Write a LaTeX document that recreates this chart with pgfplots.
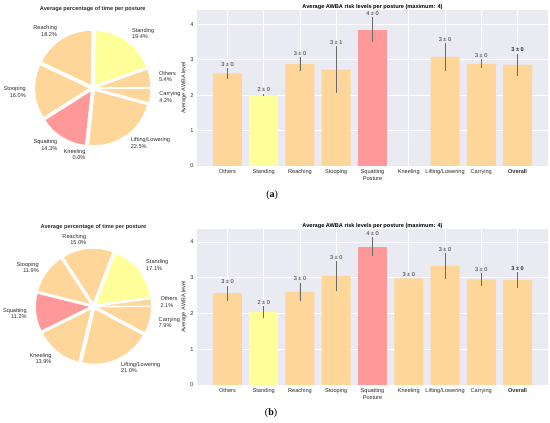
\documentclass[border=0pt]{standalone}
\usepackage{pgfplots}
\pgfplotsset{compat=1.18}
\usepackage{pgfplotstable}
\usepackage{fontspec}
\setmainfont{Liberation Sans}
\newfontfamily\seriffont{Liberation Serif}

\definecolor{orng}{HTML}{FFD699}
\definecolor{yel}{HTML}{FFFF99}
\definecolor{pnk}{HTML}{FF9999}
\definecolor{bgc}{HTML}{EAEAF2}
\definecolor{txt}{HTML}{2A2A2A}
\definecolor{errc}{HTML}{6A6A6A}
\newcommand\lbl{\fontsize{5.6}{6.6}\selectfont}

% ---------- pie data ----------
\pgfplotstableread[col sep=comma]{
name,pct,col
Others,5.4,orng
Standing,19.4,yel
Reaching,18.2,orng
Stooping,16.0,orng
Squatting,14.3,pnk
Kneeling,0.0,orng
Lifting/Lowering,22.5,orng
Carrying,4.2,orng
}\pieA
\pgfplotstableread[col sep=comma]{
name,pct,col
Others,2.1,orng
Standing,17.1,yel
Reaching,15.0,orng
Stooping,11.9,orng
Squatting,11.2,pnk
Kneeling,13.9,orng
Lifting/Lowering,21.0,orng
Carrying,7.9,orng
}\pieB

% ---------- bar data ----------
\pgfplotstableread[col sep=comma]{
x,y,err,c,lab
0,2.61,0.15,0,3 ± 0
1,2.01,0.03,1,2 ± 0
2,2.87,0.20,0,3 ± 0
3,2.72,0.66,0,3 ± 1
4,3.84,0.35,2,4 ± 0
6,3.08,0.39,0,3 ± 0
7,2.88,0.13,0,3 ± 0
8,2.85,0.32,0,\textbf{3 ± 0}
}\barA
\pgfplotstableread[col sep=comma]{
x,y,err,c,lab
0,2.57,0.21,0,3 ± 0
1,2.03,0.17,1,2 ± 0
2,2.60,0.26,0,3 ± 0
3,3.05,0.42,0,3 ± 0
4,3.87,0.27,2,4 ± 0
5,2.98,0.00,0,3 ± 0
6,3.33,0.36,0,3 ± 0
7,2.95,0.17,0,3 ± 0
8,2.94,0.22,0,\textbf{3 ± 0}
}\barB

% cumulative angles for the pies
\newcommand\preppie[2]{%
  \pgfplotstablegetrowsof{#1}%
  \pgfmathtruncatemacro\nrows{\pgfplotsretval-1}%
  \xdef\cum{0}%
  \foreach \i in {0,...,\nrows}{%
    \pgfplotstablegetelem{\i}{pct}\of{#1}\let\p\pgfplotsretval
    \pgfplotstablegetelem{\i}{name}\of{#1}\let\nm\pgfplotsretval
    \pgfplotstablegetelem{\i}{col}\of{#1}\let\cl\pgfplotsretval
    \pgfmathsetmacro\a{\cum*3.6}%
    \pgfmathsetmacro\b{(\cum+\p)*3.6}%
    \pgfmathsetmacro\m{(\a+\b)/2}%
    \pgfmathsetmacro\newcum{\cum+\p}%
    \expandafter\xdef\csname#2a\i\endcsname{\a}%
    \expandafter\xdef\csname#2b\i\endcsname{\b}%
    \expandafter\xdef\csname#2m\i\endcsname{\m}%
    \expandafter\xdef\csname#2n\i\endcsname{\nm}%
    \expandafter\xdef\csname#2p\i\endcsname{\p}%
    \expandafter\xdef\csname#2c\i\endcsname{\cl}%
    \xdef\cum{\newcum}%
  }%
}
\preppie{\pieA}{PA}
\preppie{\pieB}{PB}

\def\R{55pt}
\def\explode{3pt}
\def\ld{64pt}
\newcommand\drawpie[1]{%
  \pgfplotsextra{%
    \foreach \i in {0,...,7}{%
      \edef\A{\csname#1a\i\endcsname}%
      \edef\B{\csname#1b\i\endcsname}%
      \edef\M{\csname#1m\i\endcsname}%
      \edef\C{\csname#1c\i\endcsname}%
      \fill[fill=\C, draw=white, line width=0.8pt] (axis cs:0,0) ++(\M:\explode) -- ++(\A:\R) arc[start angle=\A, end angle=\B, radius=\R] -- cycle;
    }%
    \foreach \i in {0,...,7}{%
      \edef\M{\csname#1m\i\endcsname}%
      \pgfmathsetmacro\cs{cos(\M)}%
      \ifdim\cs pt>0pt \def\anc{west}\def\al{left}\else\def\anc{east}\def\al{right}\fi
      \path (axis cs:0,0) ++(\M:\explode) ++(\M:\ld) node[anchor=\anc, align=\al, font=\lbl, text=txt, inner sep=0pt] {\csname#1n\i\endcsname\\\csname#1p\i\endcsname\%};
    }%
  }%
}

\pgfplotsset{
  pieax/.style={
    x=1pt, y=1pt, xmin=-78, xmax=78, ymin=-78, ymax=78,
    axis line style={draw=none}, xtick=\empty, ytick=\empty,
    clip=false, anchor=center,
    title={Average percentage of time per posture},
    title style={font=\lbl\bfseries, text=txt, at={(0.5,1)}, anchor=south, yshift=-9pt, inner sep=1pt},
  },
  barax/.style={
    scale only axis, width=351pt, height=156pt,
    xmin=-0.84, xmax=8.84, ymin=0,
    anchor=south west,
    axis background/.style={fill=bgc},
    axis line style={draw=none},
    major tick length=0pt,
    grid=major, grid style={white, line width=0.7pt},
    ytick={0,1,2,3,4},
    xtick={0,...,8},
    xticklabels={Others,Standing,Reaching,Stooping,{Squatting\\Posture},Kneeling,Lifting/Lowering,Carrying,\textbf{Overall}},
    tick label style={font=\lbl, text=txt},
    /pgf/number format/assume math mode=true,
    xticklabel style={align=center},
    ylabel={Average AWBA level},
    ylabel style={font=\lbl, text=txt, yshift=-3pt},
    title={Average AWBA risk levels per posture (maximum: 4)},
    title style={font=\lbl\bfseries, text=black, at={(0.5,1)}, anchor=south, yshift=-6.5pt, inner sep=1pt},
    clip=false,
  },
  bars/.style={ybar, bar width=0.8, bar shift=0pt, draw=none, fill=#1,
    error bars/y dir=both, error bars/y explicit, error bars/error mark=none,
    error bars/error bar style={color=errc, line width=0.8pt}},
  barlabels/.style={draw=none, mark=none, nodes near coords={\pgfplotspointmeta},
    point meta=explicit symbolic,
    nodes near coords style={anchor=south, font=\lbl, text=txt, inner sep=1.5pt}},
}

\begin{document}
\begin{tikzpicture}
\path[use as bounding box] (0,0) rectangle (550pt,423pt);

% ---- (a) pie ----
\begin{axis}[pieax, at={(92.8pt,335pt)}]
\drawpie{PA}
\end{axis}

% ---- (a) bars ----
\begin{axis}[barax, ymax=4.4, at={(197pt,257pt)}]
\addplot[restrict expr to domain={\thisrow{c}}{0:0}, bars=orng] table[x=x,y=y,y error=err]{\barA};
\addplot[restrict expr to domain={\thisrow{c}}{1:1}, bars=yel] table[x=x,y=y,y error=err]{\barA};
\addplot[restrict expr to domain={\thisrow{c}}{2:2}, bars=pnk] table[x=x,y=y,y error=err]{\barA};
\addplot[barlabels] table[x=x, y expr=\thisrow{y}+\thisrow{err}, meta=lab]{\barA};
\node[font=\seriffont\fontsize{10}{12}\selectfont] at (rel axis cs:0.214,-0.186) {(\textbf{a})};
\end{axis}

% ---- (b) pie ----
\begin{axis}[pieax, at={(93.5pt,116.7pt)}]
\drawpie{PB}
\end{axis}

% ---- (b) bars ----
\begin{axis}[barax, ymax=4.36, at={(197pt,38pt)}]
\addplot[restrict expr to domain={\thisrow{c}}{0:0}, bars=orng] table[x=x,y=y,y error=err]{\barB};
\addplot[restrict expr to domain={\thisrow{c}}{1:1}, bars=yel] table[x=x,y=y,y error=err]{\barB};
\addplot[restrict expr to domain={\thisrow{c}}{2:2}, bars=pnk] table[x=x,y=y,y error=err]{\barB};
\addplot[barlabels] table[x=x, y expr=\thisrow{y}+\thisrow{err}, meta=lab]{\barB};
\node[font=\seriffont\fontsize{10}{12}\selectfont] at (rel axis cs:0.211,-0.18) {(\textbf{b})};
\end{axis}
\end{tikzpicture}
\end{document}
